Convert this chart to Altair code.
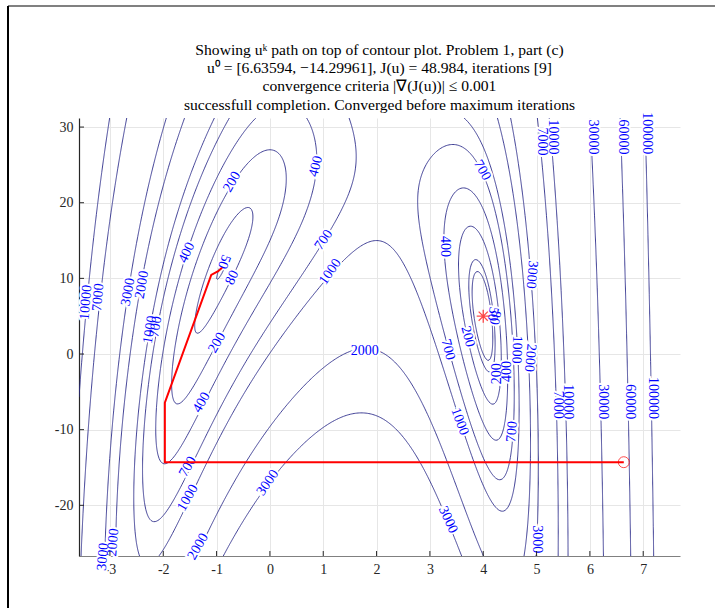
import numpy as np
import pandas as pd
import altair as alt

# ---------------- data ----------------
X_MIN, X_MAX = -3.58, 7.69
Y_MIN, Y_MAX = -26.7, 31.2

levels = [50, 80, 200, 400, 700, 1000, 2000, 3000, 7000, 10000, 30000, 60000, 100000]

path_u1 = [6.63594, -1.97, -1.97, -1.10, -0.97, -0.8968]
path_u2 = [-14.29961, -14.29961, -6.43, 10.46, 10.95, 11.41]

start_u1 = [6.63594]
start_u2 = [-14.29961]
opt_u1 = [4.0]
opt_u2 = [5.0]

label_text = ["200", "400", "700", "1000", "400", "50", "80", "200", "400",
              "10000", "7000", "3000", "2000", "1000", "700",
              "700", "1000", "3000", "2000", "3000", "2000",
              "2000", "3000", "1000", "700", "3000",
              "10000", "7000", "30000", "60000", "100000",
              "10000", "7000", "30000", "60000", "100000",
              "700", "400", "3000", "50", "80", "200", "700", "1000", "2000", "200", "400"]
label_x = [-0.71, 0.86, 1.01, 1.13, -1.56, -0.86, -0.71, -0.99, -1.28,
           -3.45, -3.22, -2.66, -2.40, -2.25, -2.14,
           -1.54, -1.54, -0.04, -1.35, -3.13, -2.94,
           1.78, 3.34, 3.56, 4.54, 5.0,
           5.59, 5.40, 6.24, 6.75, 7.18,
           5.31, 5.10, 6.06, 6.62, 7.07,
           3.98, 3.28, 4.91, 4.18, 4.22, 3.71, 3.34, 4.63, 4.88, 4.26, 4.44]
label_y = [22.76, 24.8, 15.1, 10.87, 13.4, 12.2, 10.1, 1.49, -6.4,
           6.83, 7.5, 8.2, 9.15, 3.2, 3.6,
           -14.9, -19.0, -17.0, -25.45, -26.8, -24.9,
           0.44, -21.9, -8.94, -10.26, -24.5,
           -6.3, -6.7, -6.3, -6.3, -5.8,
           28.7, 28.1, 28.7, 28.7, 29.2,
           24.3, 14.2, 10.5, 5.3, 4.8, 2.3, 0.57, 0.57, -0.5, -2.6, -2.3]
label_angle = [300, 285, 305, 305, 295, 110, 295, 300, 300,
               275, 275, 280, 280, 280, 280,
               300, 300, 305, 300, 275, 275,
               0, 65, 70, 275, 90,
               90, 90, 90, 90, 90,
               90, 90, 90, 90, 90,
               60, 90, 95, 100, 100, 75, 75, 92, 95, 270, 270]

x_ticks = [-3, -2, -1, 0, 1, 2, 3, 4, 5, 6, 7]
y_ticks = [-20, -10, 0, 10, 20, 30]

title_lines = [
    "Showing uᵏ path on top of contour plot. Problem 1, part (c)",
    "u⁰ = [6.63594, −14.29961], J(u) = 48.984, iterations [9]",
    "convergence criteria |∇(J(u))| ≤ 0.001",
    "successfull completion. Converged before maximum iterations",
]


# objective J(u) (Freudenstein-Roth form), sampled on a grid for the contour plot
def J(u1, u2):
    f1 = -13 + u2 + ((5 - u1) * u1 - 2) * u1
    f2 = -29 + u2 + ((u1 + 1) * u1 - 14) * u1
    return f1 ** 2 + f2 ** 2


xs = np.linspace(X_MIN, X_MAX, 451)
ys = np.linspace(Y_MIN, Y_MAX, 421)
XX, YY = np.meshgrid(xs, ys)
Z = J(XX, YY)


def contour_lines(level):
    B = Z > level
    c = B[:-1, :-1].astype(int) + B[:-1, 1:] + B[1:, :-1] + B[1:, 1:]
    ii, jj = np.nonzero((c > 0) & (c < 4))

    def pt(key):
        kind, i, j = key
        if kind == "h":
            z0, z1 = Z[i, j], Z[i, j + 1]
            t = (level - z0) / (z1 - z0)
            return (xs[j] + t * (xs[j + 1] - xs[j]), ys[i])
        z0, z1 = Z[i, j], Z[i + 1, j]
        t = (level - z0) / (z1 - z0)
        return (xs[j], ys[i] + t * (ys[i + 1] - ys[i]))

    adj = {}

    def link(a, b):
        adj.setdefault(a, []).append(b)
        adj.setdefault(b, []).append(a)

    for i, j in zip(ii.tolist(), jj.tolist()):
        b00, b01, b10, b11 = B[i, j], B[i, j + 1], B[i + 1, j], B[i + 1, j + 1]
        bottom = ("h", i, j)
        top = ("h", i + 1, j)
        left = ("v", i, j)
        right = ("v", i, j + 1)
        crossed = [e for e, f in ((bottom, b00 != b01), (right, b01 != b11),
                                  (top, b10 != b11), (left, b00 != b10)) if f]
        if len(crossed) == 2:
            link(*crossed)
        elif len(crossed) == 4:
            center = (Z[i, j] + Z[i, j + 1] + Z[i + 1, j] + Z[i + 1, j + 1]) / 4 > level
            if center == b00:
                link(bottom, right)
                link(top, left)
            else:
                link(bottom, left)
                link(top, right)

    visited = set()
    lines = []
    starts = [k for k, v in adj.items() if len(v) == 1] + list(adj.keys())
    for s in starts:
        if s in visited:
            continue
        chain = [s]
        visited.add(s)
        cur = s
        while True:
            nxt = [n for n in adj[cur] if n not in visited]
            if not nxt:
                if len(chain) > 2 and s in adj[cur]:
                    chain.append(s)
                break
            cur = nxt[0]
            visited.add(cur)
            chain.append(cur)
        lines.append([pt(k) for k in chain])
    return lines


rows = []
lid = 0
for lev in levels:
    for line in contour_lines(lev):
        for k, (px, py) in enumerate(line):
            rows.append({"id": lid, "k": k, "x": round(float(px), 4), "y": round(float(py), 4)})
        lid += 1
contours = pd.DataFrame(rows)

labels = pd.DataFrame({"t": label_text, "x": label_x, "y": label_y, "a": label_angle})
path = pd.DataFrame({"x": path_u1, "y": path_u2, "k": list(range(len(path_u1)))})
start = pd.DataFrame({"x": start_u1, "y": start_u2})
opt = pd.DataFrame({"x": opt_u1, "y": opt_u2})
xt = pd.DataFrame({"v": x_ticks})
yt = pd.DataFrame({"v": y_ticks})
titles = pd.DataFrame({"t": title_lines, "i": list(range(len(title_lines)))})

# ---------------- chart ----------------
W, H = 601, 438
FONT = "Liberation Serif"
LINE = "#2b2b8a"

xs_scale = alt.Scale(domain=[X_MIN, X_MAX], nice=False, zero=False)
ys_scale = alt.Scale(domain=[Y_MIN, Y_MAX], nice=False, zero=False)

x_axis = alt.Axis(values=x_ticks, title=None, grid=True, ticks=False, labelFont=FONT,
                  labelFontSize=14, labelColor="#262626", labelPadding=6,
                  labelExpr="'' + datum.value", domainColor="#808080", domainWidth=1.2)
y_axis = alt.Axis(values=y_ticks, title=None, grid=True, ticks=False, labelFont=FONT,
                  labelFontSize=14, labelColor="#262626", labelPadding=6,
                  labelExpr="'' + datum.value", domainColor="#262626", domainWidth=1.2)

base = alt.Chart(contours).mark_line(color=LINE, strokeWidth=0.9, clip=True).encode(
    x=alt.X("x:Q", scale=xs_scale, axis=x_axis),
    y=alt.Y("y:Q", scale=ys_scale, axis=y_axis),
    detail="id:N",
    order=alt.Order("k:Q"),
)

halo = alt.Chart(labels).mark_text(font=FONT, fontSize=14, color="white", stroke="white",
                                   strokeWidth=4, baseline="middle", align="center").encode(
    x=alt.X("x:Q", scale=xs_scale), y=alt.Y("y:Q", scale=ys_scale),
    text="t:N", angle=alt.Angle("a:Q", scale=None))

txt = alt.Chart(labels).mark_text(font=FONT, fontSize=14, color="#0000ff",
                                  baseline="middle", align="center").encode(
    x=alt.X("x:Q", scale=xs_scale), y=alt.Y("y:Q", scale=ys_scale),
    text="t:N", angle=alt.Angle("a:Q", scale=None))

red_path = alt.Chart(path).mark_line(color="#ff0000", strokeWidth=2).encode(
    x=alt.X("x:Q", scale=xs_scale), y=alt.Y("y:Q", scale=ys_scale), order="k:Q")

start_pt = alt.Chart(start).mark_point(shape="circle", size=120, color="#ff0000",
                                       filled=False, strokeWidth=1).encode(
    x=alt.X("x:Q", scale=xs_scale), y=alt.Y("y:Q", scale=ys_scale))

star = alt.Chart(opt).mark_point(
    shape="M -1 0 L 1 0 M 0 -1 L 0 1 M -0.7 -0.7 L 0.7 0.7 M -0.7 0.7 L 0.7 -0.7",
    size=170, color="#ff0000", filled=False, strokeWidth=1.3).encode(
    x=alt.X("x:Q", scale=xs_scale), y=alt.Y("y:Q", scale=ys_scale))

xtick = alt.Chart(xt).mark_rule(color="#262626", strokeWidth=1).encode(
    x=alt.X("v:Q", scale=xs_scale), y=alt.value(H), y2=alt.value(H - 5))
ytick = alt.Chart(yt).mark_rule(color="#262626", strokeWidth=1).encode(
    y=alt.Y("v:Q", scale=ys_scale), x=alt.value(0), x2=alt.value(5))

frame_top = alt.Chart(xt).mark_rule(color="#808080", strokeWidth=1.5).encode(
    x=alt.value(-71), x2=alt.value(715 - 79), y=alt.value(-112))
frame_left = alt.Chart(xt).mark_rule(color="#000000", strokeWidth=1.5).encode(
    x=alt.value(-71), y=alt.value(-112), y2=alt.value(608 - 118))

title_txt = alt.Chart(titles).transform_calculate(py="-68 + 18.2 * datum.i").mark_text(
    font=FONT, fontSize=15.6, color="#000000", baseline="middle", align="center").encode(
    x=alt.value(W / 2), y=alt.Y("py:Q", scale=None), text="t:N")

chart = alt.layer(base, halo, txt, red_path, start_pt, star, xtick, ytick,
                  frame_top, frame_left, title_txt).properties(
    width=W, height=H,
    autosize=alt.AutoSizeParams(type="none"),
    padding={"left": 79, "top": 118, "right": 35, "bottom": 52},
).configure_view(stroke=None).configure_axis(gridColor="#e6e6e6", gridWidth=1)

chart.save("out.html", embed_options={"renderer": "svg", "actions": False})
